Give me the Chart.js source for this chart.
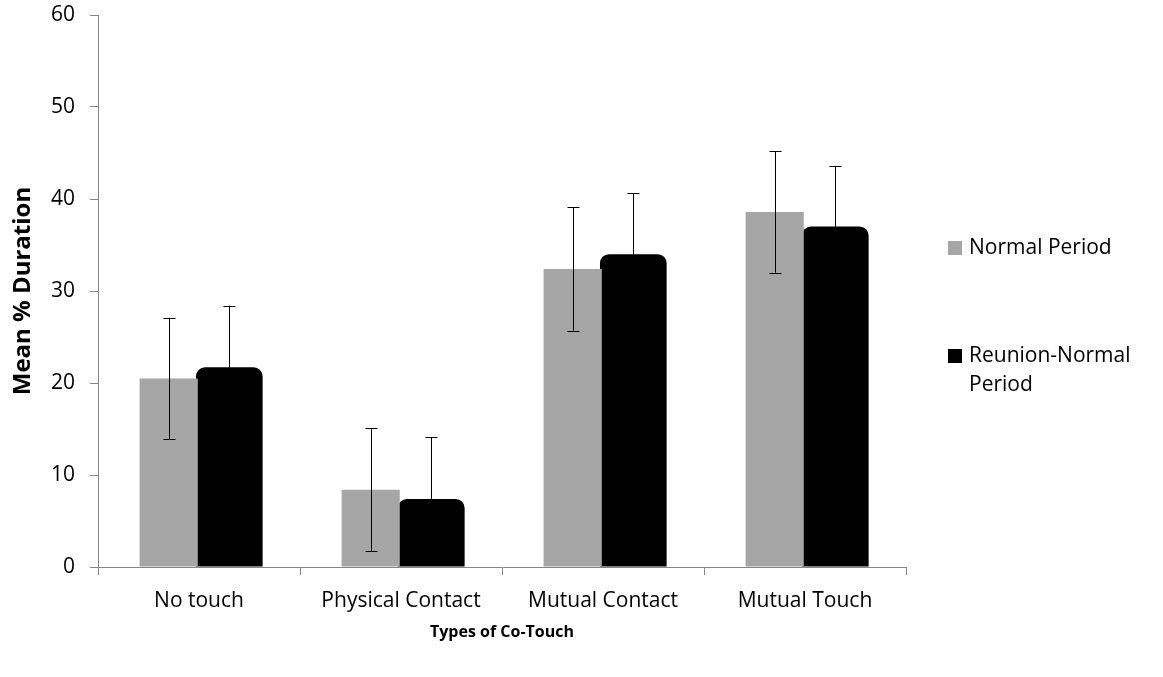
<!DOCTYPE html>
<html>
<head>
<meta charset="utf-8">
<script src="https://cdn.jsdelivr.net/npm/chart.js@4/dist/chart.umd.min.js"></script>
<style>
  html, body { margin: 0; padding: 0; background: #fff; }
  #wrap { width: 1163px; height: 677px; position: relative; }
</style>
</head>
<body>
<div id="wrap"><canvas id="chart"></canvas></div>
<script>
// Chart data
const categories = ['No touch', 'Physical Contact', 'Mutual Contact', 'Mutual Touch'];
const seriesNames = ['Normal Period', 'Reunion-Normal Period'];
const normalValues = [20.5, 8.4, 32.4, 38.6];
const reunionValues = [21.7, 7.4, 34.0, 37.0];
const normalErrors = [6.6, 6.7, 6.7, 6.6];
const reunionErrors = [6.7, 6.7, 6.6, 6.6];
const yTicks = [0, 10, 20, 30, 40, 50, 60];

const GRAY = '#a6a6a6';
const AXIS = '#868686';
const FONT = '"Open Sans", sans-serif';

// Error bars drawn on top of the bars
const errorBars = {
  id: 'errorBars',
  afterDatasetsDraw(chart) {
    const ctx = chart.ctx;
    const y = chart.scales.y;
    const errs = [normalErrors, reunionErrors];
    ctx.save();
    ctx.strokeStyle = '#000';
    ctx.lineWidth = 1;
    chart.data.datasets.forEach((ds, di) => {
      chart.getDatasetMeta(di).data.forEach((bar, i) => {
        const v = ds.data[i];
        const hi = y.getPixelForValue(v + errs[di][i]);
        const lo = y.getPixelForValue(v - errs[di][i]);
        const x = Math.round(bar.x) + 0.5;
        ctx.beginPath();
        ctx.moveTo(x, hi); ctx.lineTo(x, lo);
        ctx.moveTo(x - 6, Math.round(hi) + 0.5); ctx.lineTo(x + 6, Math.round(hi) + 0.5);
        ctx.moveTo(x - 6, Math.round(lo) + 0.5); ctx.lineTo(x + 6, Math.round(lo) + 0.5);
        ctx.stroke();
      });
    });
    ctx.restore();
  }
};

// Legend on the right, with the wrapped second label
const sideLegend = {
  id: 'sideLegend',
  afterDraw(chart) {
    const ctx = chart.ctx;
    const items = [
      { color: GRAY, lines: ['Normal Period'], y: 248 },
      { color: '#000', lines: ['Reunion-Normal', 'Period'], y: 356 }
    ];
    ctx.save();
    ctx.font = '21px ' + FONT;
    ctx.textBaseline = 'middle';
    items.forEach(it => {
      ctx.fillStyle = it.color;
      ctx.fillRect(948, it.y - 7, 14, 14);
      ctx.fillStyle = '#000';
      it.lines.forEach((t, k) => ctx.fillText(t, 969, it.y + k * 29));
    });
    ctx.restore();
  }
};

new Chart(document.getElementById('chart'), {
  type: 'bar',
  data: {
    labels: categories,
    datasets: [
      {
        label: seriesNames[0],
        data: normalValues,
        backgroundColor: GRAY,
        barPercentage: 0.96,
        categoryPercentage: 0.6
      },
      {
        label: seriesNames[1],
        data: reunionValues,
        backgroundColor: '#000',
        borderRadius: { topLeft: 9, topRight: 9 },
        borderSkipped: 'bottom',
        barPercentage: 1.1,
        categoryPercentage: 0.6
      }
    ]
  },
  options: {
    responsive: true,
    maintainAspectRatio: false,
    animation: false,
    layout: { padding: { top: 15, right: 257, left: 0, bottom: 0 } },
    plugins: {
      legend: { display: false },
      tooltip: { enabled: false }
    },
    scales: {
      x: {
        grid: { drawOnChartArea: false, drawTicks: true, tickLength: 8, color: AXIS },
        border: { color: AXIS, width: 1 },
        ticks: { color: '#000', font: { family: FONT, size: 21 }, padding: 13, maxRotation: 0 },
        title: {
          display: true,
          text: 'Types of Co-Touch',
          color: '#000',
          font: { family: FONT, size: 16, weight: 'bold' },
          padding: { top: 0, bottom: 35 }
        },
        afterFit: s => { s.height = 110; s.paddingLeft = 0; s.paddingRight = 0; }
      },
      y: {
        min: 0,
        max: 60,
        afterBuildTicks: s => { s.ticks = yTicks.map(v => ({ value: v })); },
        grid: { drawOnChartArea: false, drawTicks: true, tickLength: 8, color: AXIS },
        border: { color: AXIS, width: 1 },
        ticks: { color: '#000', font: { family: FONT, size: 21 }, padding: 15 },
        title: {
          display: true,
          text: 'Mean % Duration',
          color: '#000',
          font: { family: FONT, size: 24, weight: 'bold' },
          padding: { top: 9, bottom: 0 }
        },
        afterFit: s => { s.width = 98; s.paddingTop = 0; s.paddingBottom = 0; }
      }
    }
  },
  plugins: [errorBars, sideLegend]
});
</script>
</body>
</html>
